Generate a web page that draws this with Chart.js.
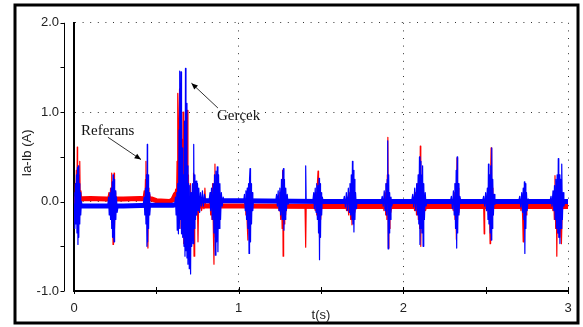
<!DOCTYPE html>
<html>
<head>
<meta charset="utf-8">
<script src="https://cdn.jsdelivr.net/npm/chart.js@4"></script>
<style>
  html, body { margin: 0; padding: 0; background: #fff; }
  canvas { display: block; }
</style>
</head>
<body>
<canvas id="chart" width="583" height="327"></canvas>
<script>
// Оси и подписи
const timeTicks = [0, 1, 2, 3];
const currentTicks = [-1, 0, 1, 2];
const timeMarks = [0, 0.5, 1, 1.5, 2, 2.5, 3];
const currentMarks = [-1, -0.5, 0, 0.5, 1, 1.5, 2];
const seriesNames = ['Referans', 'Gerçek'];

// Фон сигнала (толстая полоса шума) [t, Ia-Ib]
const referansBand = [
  [0, 0.03], [0.1, 0.035], [0.2, 0.03], [0.3, 0.03], [0.4, 0.035], [0.47, 0.03],
  [0.5, 0.01], [0.58, 0.0], [0.6, 0.02], [0.615, 0.08], [0.64, 0.05], [0.7, -0.02],
  [0.76, -0.05], [1.0, -0.05], [1.5, -0.055], [2.0, -0.055], [2.5, -0.055], [3.0, -0.055]
];
const gercekBand = [
  [0, -0.05], [0.3, -0.05], [0.46, -0.04], [0.6, -0.04], [0.63, -0.03], [0.7, 0.0],
  [0.8, 0.01], [1.0, 0.01], [1.5, 0.0], [2.0, 0.0], [2.5, 0.0], [3.0, 0.0]
];

// Выбросы при коммутации [t, Ia-Ib]
const referansSpikes = [
  [0.003, 0.03], [0.005, -0.22], [0.008, 0.2], [0.011, -0.15], [0.014, 0.35], [0.017, -0.12], [0.020, 0.61], [0.022, -0.1], [0.025, 0.3], [0.028, -0.06], [0.032, 0.2], [0.035, 0.45], [0.038, 0.0], [0.042, 0.12], [0.046, 0.03],
  [0.205, 0.03], [0.212, 0.1], [0.218, -0.05], [0.222, 0.15], [0.226, -0.1], [0.229, 0.32], [0.232, -0.2], [0.235, 0.2], [0.237, -0.48], [0.240, 0.1], [0.243, 0.32], [0.246, -0.3], [0.249, 0.1], [0.253, -0.1], [0.258, 0.05], [0.265, 0.03],
  [0.42, 0.04], [0.426, 0.12], [0.43, -0.05], [0.434, 0.25], [0.437, 0.45], [0.44, -0.2], [0.443, 0.3], [0.446, -0.35], [0.449, -0.52], [0.452, 0.15], [0.455, -0.15], [0.46, 0.08], [0.466, 0.03],
  [0.5, 0.01], [0.58, 0.0], [0.6, 0.02], [0.606, 0.06],
  [0.612, 0.08], [0.618, 0.14], [0.622, -0.05], [0.626, 0.45], [0.629, -0.2], [0.631, 1.21], [0.634, -0.25], [0.637, 0.8], [0.641, 1.26], [0.644, -0.2], [0.647, 0.6], [0.65, -0.3], [0.654, 0.7], [0.658, -0.2], [0.662, 1.0], [0.665, -0.47], [0.668, 0.4], [0.671, -0.3], [0.674, 0.6], [0.678, -0.35], [0.682, 0.5], [0.686, -0.4], [0.689, 1.02], [0.692, -0.58], [0.695, 0.3], [0.699, -0.45], [0.704, -0.64], [0.707, 0.2], [0.711, -0.2], [0.716, 0.1], [0.72, -0.3], [0.723, 0.15], [0.726, 0.32], [0.729, -0.61], [0.733, 0.1], [0.737, -0.2], [0.741, 0.1], [0.745, -0.15], [0.749, 0.05], [0.753, -0.45], [0.757, 0.0], [0.762, -0.12], [0.768, 0.05], [0.775, -0.1], [0.782, 0.0], [0.789, -0.08], [0.795, 0.15], [0.8, -0.05], [0.81, -0.03],
  [0.82, -0.05], [0.826, 0.05], [0.83, -0.15], [0.834, 0.1], [0.838, -0.2], [0.842, 0.2], [0.846, -0.3], [0.85, -0.7], [0.853, 0.3], [0.856, 0.42], [0.859, -0.4], [0.862, 0.2], [0.866, -0.25], [0.87, 0.1], [0.875, -0.12], [0.88, -0.03], [0.886, -0.06],
  [1.035, -0.05], [1.04, 0.02], [1.044, -0.15], [1.048, 0.05], [1.052, -0.25], [1.056, -0.43], [1.06, 0.05], [1.064, -0.3], [1.068, 0.08], [1.072, -0.2], [1.076, 0.0], [1.08, -0.1], [1.086, -0.05],
  [1.235, -0.05], [1.24, 0.05], [1.245, -0.1], [1.25, 0.1], [1.255, -0.2], [1.26, 0.15], [1.264, -0.3], [1.267, 0.35], [1.27, -0.61], [1.273, 0.2], [1.276, -0.25], [1.28, 0.1], [1.285, -0.15], [1.29, -0.03], [1.296, -0.06],
  [1.403, -0.05], [1.407, -0.51], [1.41, -0.05],
  [1.455, -0.05], [1.46, 0.02], [1.465, -0.1], [1.47, 0.1], [1.474, -0.15], [1.478, 0.2], [1.482, 0.34], [1.485, -0.2], [1.488, 0.15], [1.491, -0.4], [1.494, 0.1], [1.498, -0.2], [1.503, -0.03], [1.51, -0.06],
  [1.64, -0.05], [1.648, 0.0], [1.655, -0.1], [1.662, 0.05], [1.668, -0.15], [1.674, 0.1], [1.68, -0.2], [1.684, 0.17], [1.688, -0.26], [1.692, 0.1], [1.696, -0.2], [1.7, 0.0], [1.705, -0.12], [1.712, -0.04],
  [1.87, -0.05], [1.876, 0.02], [1.882, -0.1], [1.888, 0.1], [1.893, -0.15], [1.897, 0.2], [1.9, -0.2], [1.903, 0.3], [1.906, 0.72], [1.909, -0.52], [1.912, 0.1], [1.915, -0.3], [1.919, 0.0], [1.924, -0.12], [1.93, -0.05],
  [2.055, -0.05], [2.062, 0.05], [2.068, -0.1], [2.074, 0.1], [2.08, -0.15], [2.086, 0.2], [2.091, -0.2], [2.095, 0.3], [2.099, -0.3], [2.103, 0.62], [2.106, -0.5], [2.11, 0.2], [2.114, -0.3], [2.118, 0.1], [2.123, -0.2], [2.128, 0.0], [2.135, -0.1], [2.142, -0.05],
  [2.29, -0.05], [2.297, 0.02], [2.303, -0.1], [2.309, 0.1], [2.314, -0.2], [2.318, 0.2], [2.322, -0.42], [2.326, 0.49], [2.329, -0.2], [2.333, 0.15], [2.337, -0.12], [2.342, -0.03], [2.348, -0.06],
  [2.48, -0.05], [2.488, -0.05], [2.491, -0.36], [2.494, -0.05], [2.5, 0.0], [2.506, -0.1], [2.512, 0.1], [2.517, -0.15], [2.521, 0.2], [2.525, -0.3], [2.527, -0.47], [2.53, 0.3], [2.533, 0.6], [2.536, -0.3], [2.54, 0.15], [2.544, -0.15], [2.549, 0.0], [2.555, -0.06],
  [2.7, -0.05], [2.708, 0.0], [2.714, -0.1], [2.72, 0.05], [2.725, -0.2], [2.728, -0.45], [2.732, 0.05], [2.736, -0.3], [2.74, 0.0], [2.745, -0.15], [2.75, -0.04], [2.758, -0.06],
  [2.895, -0.05], [2.902, 0.0], [2.908, -0.1], [2.913, 0.1], [2.917, -0.2], [2.921, 0.29], [2.925, -0.3], [2.929, 0.1], [2.932, -0.61], [2.936, 0.15], [2.94, -0.35], [2.945, 0.1], [2.95, -0.4], [2.955, 0.0], [2.96, -0.47], [2.965, -0.1], [2.972, -0.05]
];
const gercekSpikes = [
  [0.002, -0.05], [0.004, 0.1], [0.006, -0.3], [0.009, 0.2], [0.012, -0.25], [0.015, 0.3], [0.018, -0.35], [0.021, 0.38], [0.024, -0.48], [0.026, 0.4], [0.029, -0.4], [0.032, 0.2], [0.035, -0.25], [0.038, 0.1], [0.041, -0.15], [0.045, 0.0], [0.05, -0.05],
  [0.205, -0.05], [0.21, 0.05], [0.214, -0.15], [0.218, 0.1], [0.222, -0.2], [0.226, 0.15], [0.229, -0.3], [0.232, 0.22], [0.234, -0.4], [0.237, 0.3], [0.240, -0.35], [0.243, -0.45], [0.245, 0.25], [0.248, -0.3], [0.251, 0.12], [0.254, -0.2], [0.258, 0.05], [0.262, -0.12], [0.268, -0.05],
  [0.42, -0.05], [0.426, 0.05], [0.43, -0.15], [0.434, 0.15], [0.437, -0.25], [0.44, 0.3], [0.443, -0.5], [0.445, 0.64], [0.447, -0.45], [0.45, 0.3], [0.453, -0.3], [0.456, 0.1], [0.46, -0.15], [0.465, -0.02], [0.47, -0.05],
  [0.612, -0.04], [0.616, 0.05], [0.62, -0.15], [0.624, 0.1], [0.627, -0.32], [0.63, 0.2], [0.634, -0.36], [0.638, 0.8], [0.641, -0.3], [0.643, 1.46], [0.646, -0.2], [0.65, 1.45], [0.653, -0.36], [0.656, 0.6], [0.66, -0.4], [0.664, 0.3], [0.668, -0.5], [0.671, 0.9], [0.674, -0.61], [0.677, 1.49], [0.68, -0.55], [0.683, 1.1], [0.686, -0.63], [0.689, 0.4], [0.692, -0.7], [0.696, 0.2], [0.7, -0.75], [0.704, 0.18], [0.708, -0.81], [0.711, 0.1], [0.715, -0.5], [0.719, 0.2], [0.723, -0.47], [0.727, 0.64], [0.73, -0.3], [0.734, 0.3], [0.738, -0.2], [0.742, 0.23], [0.746, -0.15], [0.75, 0.2], [0.754, -0.1], [0.758, 0.15], [0.763, -0.12], [0.768, 0.1], [0.774, -0.05], [0.78, 0.12], [0.786, -0.05], [0.792, 0.08], [0.8, 0.0],
  [0.82, 0.0], [0.826, 0.1], [0.83, -0.1], [0.835, 0.15], [0.84, -0.2], [0.845, 0.2], [0.85, -0.35], [0.854, 0.3], [0.858, -0.6], [0.862, 0.34], [0.866, -0.45], [0.87, 0.39], [0.874, -0.56], [0.878, 0.3], [0.882, -0.3], [0.886, 0.2], [0.89, -0.2], [0.895, 0.1], [0.9, -0.05], [0.906, 0.05], [0.912, 0.0],
  [1.03, 0.0], [1.035, 0.08], [1.04, -0.1], [1.044, 0.12], [1.048, -0.2], [1.052, 0.15], [1.056, -0.3], [1.06, 0.2], [1.063, -0.58], [1.066, 0.25], [1.069, 0.37], [1.072, -0.45], [1.075, 0.2], [1.078, -0.25], [1.082, 0.1], [1.086, -0.1], [1.09, 0.02], [1.096, 0.0],
  [1.225, 0.0], [1.23, 0.08], [1.235, -0.05], [1.24, 0.12], [1.245, -0.1], [1.25, 0.15], [1.255, -0.15], [1.26, 0.25], [1.264, -0.2], [1.268, 0.33], [1.272, 0.37], [1.275, -0.32], [1.278, 0.25], [1.282, -0.2], [1.286, 0.15], [1.29, -0.1], [1.295, 0.08], [1.3, -0.03], [1.306, 0.0],
  [1.403, 0.0], [1.407, 0.4], [1.41, 0.0],
  [1.45, 0.0], [1.456, 0.1], [1.46, -0.08], [1.465, 0.15], [1.47, -0.12], [1.474, 0.2], [1.478, -0.2], [1.482, 0.18], [1.485, -0.35], [1.488, 0.26], [1.491, -0.65], [1.494, 0.2], [1.497, -0.4], [1.5, 0.1], [1.504, -0.15], [1.508, 0.05], [1.514, 0.0],
  [1.635, 0.0], [1.642, 0.06], [1.648, -0.06], [1.654, 0.1], [1.66, -0.1], [1.666, 0.15], [1.672, -0.12], [1.676, 0.2], [1.68, -0.15], [1.684, 0.3], [1.688, -0.2], [1.691, 0.45], [1.694, -0.25], [1.697, 0.35], [1.7, -0.34], [1.703, 0.25], [1.706, -0.2], [1.71, 0.1], [1.715, -0.08], [1.72, 0.02],
  [1.865, 0.0], [1.872, 0.06], [1.878, -0.05], [1.884, 0.12], [1.889, -0.1], [1.894, 0.2], [1.898, -0.15], [1.902, 0.25], [1.905, 0.68], [1.908, -0.53], [1.911, 0.3], [1.914, -0.35], [1.917, 0.1], [1.921, -0.2], [1.925, 0.05], [1.93, -0.05], [1.936, 0.0],
  [2.05, 0.0], [2.057, 0.08], [2.063, -0.06], [2.069, 0.15], [2.075, -0.1], [2.081, 0.2], [2.086, -0.15], [2.09, 0.3], [2.094, -0.25], [2.098, 0.5], [2.101, -0.48], [2.104, 0.45], [2.107, -0.3], [2.11, 0.3], [2.113, -0.35], [2.117, 0.4], [2.12, -0.5], [2.124, 0.2], [2.128, -0.2], [2.133, 0.1], [2.138, -0.05], [2.145, 0.02],
  [2.285, 0.0], [2.292, 0.06], [2.298, -0.08], [2.304, 0.12], [2.309, -0.15], [2.313, 0.2], [2.317, -0.3], [2.321, 0.35], [2.324, -0.52], [2.327, 0.5], [2.33, -0.35], [2.334, 0.2], [2.338, -0.15], [2.343, 0.06], [2.35, 0.0],
  [2.48, 0.0], [2.488, 0.06], [2.494, -0.05], [2.5, 0.1], [2.505, -0.1], [2.51, 0.15], [2.514, -0.2], [2.517, 0.42], [2.52, -0.25], [2.524, 0.3], [2.528, -0.35], [2.531, 0.4], [2.534, -0.43], [2.537, 0.6], [2.54, -0.3], [2.543, 0.25], [2.547, -0.15], [2.551, 0.08], [2.556, -0.03], [2.562, 0.0],
  [2.7, 0.0], [2.707, 0.06], [2.713, -0.06], [2.719, 0.1], [2.724, -0.12], [2.728, 0.15], [2.732, -0.2], [2.735, 0.22], [2.738, -0.58], [2.741, 0.2], [2.744, -0.3], [2.748, 0.1], [2.752, -0.1], [2.758, 0.03], [2.765, 0.0],
  [2.89, 0.0], [2.897, 0.06], [2.903, -0.05], [2.909, 0.12], [2.914, -0.1], [2.918, 0.18], [2.922, -0.2], [2.926, 0.25], [2.93, -0.3], [2.934, 0.3], [2.938, -0.35], [2.941, 0.48], [2.944, -0.4], [2.948, 0.3], [2.951, -0.47], [2.955, 0.25], [2.959, -0.3], [2.962, 0.42], [2.966, -0.2], [2.97, 0.1], [2.975, -0.05], [2.982, 0.0]
];

// Стрелки-подписи: текст и стрелка в координатах данных
const notes = [
  { text: seriesNames[0], at: [0.043, 0.742], from: [0.206, 0.72], to: [0.407, 0.47] },
  { text: seriesNames[1], at: [0.868, 0.916], from: [0.874, 1.047], to: [0.713, 1.325] }
];

const SANS = 'Arial, "Liberation Sans", sans-serif';
const SERIF = '"Times New Roman", "Liberation Serif", serif';

const toXY = arr => arr.map(([t, v]) => ({ x: t, y: v }));

// Рамка, отдельная ось Y, засечки, подписи осей и стрелки
const decor = {
  id: 'decor',
  beforeDraw(chart) {
    const { ctx } = chart;
    ctx.save();
    ctx.fillStyle = '#fff';
    ctx.fillRect(0, 0, chart.width, chart.height);
    ctx.strokeStyle = '#000';
    ctx.lineWidth = 3;
    ctx.strokeRect(15, 5, 563, 318);
    ctx.restore();
  },
  afterDraw(chart) {
    const { ctx, chartArea, scales: { x, y } } = chart;
    ctx.save();
    ctx.strokeStyle = '#000';
    ctx.lineWidth = 1;
    ctx.beginPath();
    const ax = chartArea.left - 10 + 0.5;
    ctx.moveTo(ax, y.getPixelForValue(2));
    ctx.lineTo(ax, y.getPixelForValue(-1));
    currentMarks.forEach(v => {
      const py = Math.round(y.getPixelForValue(v)) + 0.5;
      ctx.moveTo(ax - 4, py);
      ctx.lineTo(ax, py);
    });
    timeMarks.forEach(v => {
      const px = Math.round(x.getPixelForValue(v)) + 0.5;
      ctx.moveTo(px, chartArea.bottom - 4);
      ctx.lineTo(px, chartArea.bottom + 3);
    });
    ctx.stroke();

    // подписи осей
    ctx.fillStyle = '#222';
    ctx.font = '13px ' + SANS;
    ctx.textAlign = 'center';
    ctx.textBaseline = 'middle';
    ctx.fillText('t(s)', 321, 315);
    ctx.save();
    ctx.translate(27, 153);
    ctx.rotate(-Math.PI / 2);
    ctx.fillText('Ia-Ib (A)', 0, 0);
    ctx.restore();

    // стрелки
    ctx.font = '15px ' + SERIF;
    ctx.textAlign = 'left';
    ctx.textBaseline = 'alphabetic';
    notes.forEach(n => {
      ctx.fillStyle = '#111';
      ctx.fillText(n.text, x.getPixelForValue(n.at[0]), y.getPixelForValue(n.at[1]));
      const x1 = x.getPixelForValue(n.from[0]), y1 = y.getPixelForValue(n.from[1]);
      const x2 = x.getPixelForValue(n.to[0]), y2 = y.getPixelForValue(n.to[1]);
      const a = Math.atan2(y2 - y1, x2 - x1);
      ctx.strokeStyle = '#333';
      ctx.beginPath();
      ctx.moveTo(x1, y1);
      ctx.lineTo(x2, y2);
      ctx.stroke();
      ctx.fillStyle = '#000';
      ctx.beginPath();
      ctx.moveTo(x2, y2);
      ctx.lineTo(x2 - 7 * Math.cos(a - 0.4), y2 - 7 * Math.sin(a - 0.4));
      ctx.lineTo(x2 - 7 * Math.cos(a + 0.4), y2 - 7 * Math.sin(a + 0.4));
      ctx.closePath();
      ctx.fill();
    });
    ctx.restore();
  }
};

const gridOpts = { color: '#333', lineWidth: 1, drawTicks: false };
const borderOpts = { display: true, color: '#000', width: 2, dash: [1, 6.6] };
const tickFont = { family: SANS, size: 13 };

new Chart(document.getElementById('chart'), {
  type: 'line',
  data: {
    datasets: [
      { label: seriesNames[1], data: toXY(gercekSpikes), borderColor: '#0000ff', borderWidth: 1.2, order: 1 },
      { label: seriesNames[1], data: toXY(gercekBand), borderColor: '#0000ff', borderWidth: 5, order: 2 },
      { label: seriesNames[0], data: toXY(referansSpikes), borderColor: '#ff0000', borderWidth: 1.2, order: 3 },
      { label: seriesNames[0], data: toXY(referansBand), borderColor: '#ff0000', borderWidth: 5, order: 4 }
    ]
  },
  options: {
    responsive: false,
    animation: false,
    parsing: false,
    normalized: true,
    elements: { point: { radius: 0 }, line: { tension: 0, borderJoinStyle: 'round', fill: false } },
    layout: { padding: { top: 16, right: 15, bottom: 0, left: 0 } },
    plugins: { legend: { display: false }, tooltip: { enabled: false } },
    scales: {
      x: {
        type: 'linear', min: 0, max: 3,
        afterBuildTicks: s => { s.ticks = timeTicks.map(v => ({ value: v })); },
        afterFit: s => { s.height = 36; },
        ticks: { font: tickFont, color: '#222', padding: 10, maxRotation: 0, callback: v => String(v) },
        grid: gridOpts,
        border: borderOpts
      },
      y: {
        type: 'linear', min: -1, max: 2,
        afterBuildTicks: s => { s.ticks = currentTicks.map(v => ({ value: v })); },
        afterFit: s => { s.width = 74; },
        ticks: { font: tickFont, color: '#222', padding: 15, callback: v => Number(v).toFixed(1) },
        grid: gridOpts,
        border: borderOpts
      }
    }
  },
  plugins: [decor]
});
</script>
</body>
</html>
